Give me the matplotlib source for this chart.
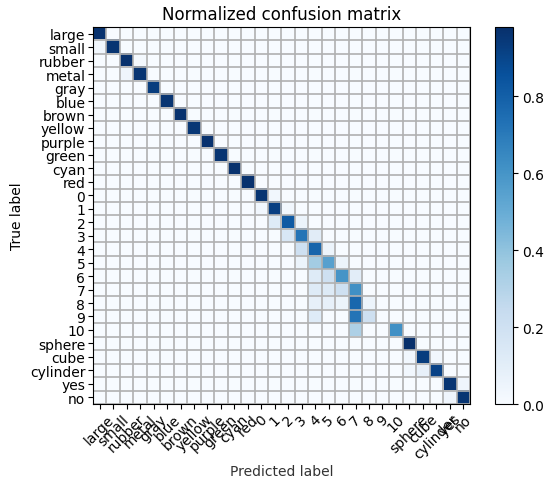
import numpy as np
import matplotlib
matplotlib.use("Agg")
import matplotlib.pyplot as plt

# ── Data ──────────────────────────────────────────────────────────────
classes = ["large", "small", "rubber", "metal", "gray", "blue", "brown",
           "yellow", "purple", "green", "cyan", "red",
           "0", "1", "2", "3", "4", "5", "6", "7", "8", "9", "10",
           "sphere", "cube", "cylinder", "yes", "no"]

# diagonal (correct) rates, one per class
diag_vals = [0.97, 0.96, 0.97, 0.96, 0.93, 0.96, 0.97, 0.95, 0.97, 0.96, 0.97, 0.97,
             0.96, 0.92, 0.82, 0.72, 0.78, 0.55, 0.60, 0.62, 0.05, 0.00, 0.62,
             0.98, 0.93, 0.91, 0.96, 0.96]

# off-diagonal confusions: (true row, predicted col, rate)
off_rows = [1, 2, 3, 12, 13, 13, 14, 14, 15, 15, 16, 16, 17, 17, 17,
            18, 18, 18, 19, 19, 19, 20, 20, 20, 20, 21, 21, 21, 22,
            24, 24, 25, 25, 26, 27]
off_cols = [0, 3, 2, 13, 12, 14, 13, 15, 14, 16, 15, 17, 15, 16, 18,
            16, 17, 19, 16, 17, 18, 16, 17, 18, 19, 16, 19, 20, 19,
            23, 25, 23, 24, 27, 26]
off_vals = [0.03, 0.02, 0.04, 0.03, 0.03, 0.03, 0.12, 0.05, 0.15, 0.11, 0.20, 0.05, 0.05, 0.35, 0.05,
            0.12, 0.20, 0.10, 0.12, 0.13, 0.20, 0.08, 0.08, 0.05, 0.77, 0.12, 0.72, 0.20, 0.32,
            0.03, 0.03, 0.03, 0.08, 0.04, 0.04]

n = len(classes)
cm = np.zeros((n, n))
cm[np.arange(n), np.arange(n)] = diag_vals
cm[off_rows, off_cols] = off_vals

# ── Plot ──────────────────────────────────────────────────────────────
fig = plt.figure(figsize=(5.45, 4.81), dpi=100)
ax = fig.add_axes([0.1706, 0.158, 0.6918, 0.7838])
cax = fig.add_axes([0.908, 0.158, 0.033, 0.7838])

im = ax.imshow(cm, interpolation="nearest", cmap=plt.cm.Blues, aspect="auto")
ax.set_title("Normalized confusion matrix", fontsize=12, pad=6)

ticks = np.arange(n)
ax.set_xticks(ticks)
ax.set_xticklabels(classes, rotation=45, fontsize=10)
ax.set_yticks(ticks)
ax.set_yticklabels(classes, fontsize=10)
ax.set_xticks(np.arange(-0.5, n), minor=True)
ax.set_yticks(np.arange(-0.5, n), minor=True)
ax.grid(which="minor", color="#b0b0b0", linewidth=1.2)
ax.tick_params(which="minor", length=0)
ax.tick_params(which="major", length=3.5, pad=2)
ax.set_ylabel("True label", fontsize=10)
ax.set_xlabel("Predicted label", fontsize=10, color="#333333", labelpad=2)

cb = fig.colorbar(im, cax=cax)
cb.set_ticks([0.0, 0.2, 0.4, 0.6, 0.8])
cb.ax.tick_params(labelsize=10)

fig.savefig("out.png", dpi=100)
